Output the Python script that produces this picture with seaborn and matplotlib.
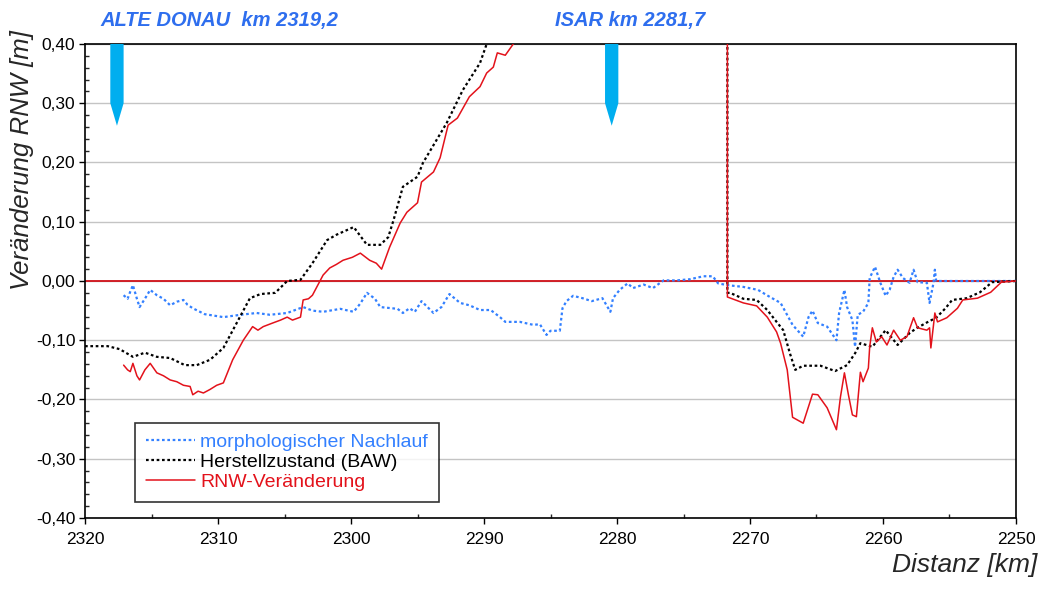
import matplotlib
matplotlib.use('Agg')
import matplotlib.pyplot as plt
import matplotlib.ticker as mticker
import numpy as np
import pandas as pd
import seaborn as sns

# Werte (km, Veränderung in m)
km_herstell = [2320.0, 2318.3, 2317.4, 2316.4, 2315.5, 2314.6, 2313.6, 2312.5, 2311.6, 2310.6,
               2309.6, 2308.6, 2307.6, 2306.8, 2305.7, 2304.8, 2303.8, 2302.9, 2301.8, 2301.1,
               2299.8, 2298.8, 2297.8, 2297.2, 2296.8, 2296.1, 2295.0, 2294.6, 2292.8, 2291.6,
               2290.3, 2289.8, 2288.0, 2285.0, 2280.0, 2275.0, 2271.7,
               2271.7, 2271.5, 2270.5, 2269.5, 2268.7, 2268.0, 2267.5, 2267.0, 2266.6, 2266.0,
               2264.7, 2263.6, 2262.7, 2262.1, 2261.7, 2260.8, 2259.8, 2258.9, 2258.0, 2257.5,
               2256.7, 2256.0, 2255.3, 2254.8, 2253.7, 2252.7, 2251.8, 2250.0]
rnw_herstell = [-0.110, -0.110, -0.115, -0.128, -0.121, -0.128, -0.130, -0.142, -0.142, -0.133,
                -0.113, -0.071, -0.029, -0.022, -0.020, 0.000, 0.002, 0.030, 0.069, 0.078,
                0.091, 0.061, 0.061, 0.074, 0.103, 0.159, 0.176, 0.199, 0.267, 0.322,
                0.368, 0.400, 0.450, 0.520, 0.600, 0.650, 0.680,
                -0.020, -0.020, -0.030, -0.032, -0.049, -0.069, -0.083, -0.122, -0.150, -0.143,
                -0.143, -0.152, -0.142, -0.122, -0.105, -0.111, -0.083, -0.108, -0.088, -0.080,
                -0.070, -0.062, -0.046, -0.032, -0.029, -0.019, -0.002, 0.000]

km_rnw = [2317.1, 2316.8, 2316.6, 2316.4, 2316.1, 2315.9, 2315.5, 2315.1, 2314.6, 2314.1,
          2313.6, 2313.1, 2312.6, 2312.1, 2311.9, 2311.5, 2311.1, 2310.6, 2310.1, 2309.6,
          2308.9, 2308.1, 2307.4, 2307.0, 2306.6, 2305.9, 2305.3, 2304.8, 2304.4, 2303.8,
          2303.6, 2303.2, 2302.9, 2302.1, 2301.6, 2301.1, 2300.6, 2299.9, 2299.3, 2298.6,
          2298.1, 2297.7, 2297.1, 2296.3, 2295.8, 2295.0, 2294.7, 2293.8, 2293.3, 2292.7,
          2292.0, 2291.1, 2290.3, 2289.8, 2289.3, 2289.0, 2288.4, 2287.8, 2285.0, 2280.0,
          2275.0, 2271.7,
          2271.7, 2270.5, 2269.5, 2268.7, 2268.0, 2267.7, 2267.2, 2266.8, 2266.0, 2265.3,
          2264.9, 2264.2, 2263.5, 2263.2, 2262.9, 2262.6, 2262.3, 2262.0, 2261.7, 2261.5,
          2261.1, 2261.0, 2260.8, 2260.5, 2260.1, 2259.7, 2259.2, 2258.7, 2258.2, 2257.7,
          2257.4, 2256.7, 2256.5, 2256.4, 2256.2, 2256.1, 2255.9, 2255.2, 2254.4, 2254.0,
          2252.9, 2251.9, 2251.1, 2250.0]
rnw_rnw = [-0.142, -0.150, -0.153, -0.139, -0.160, -0.167, -0.150, -0.139, -0.155, -0.160,
           -0.167, -0.170, -0.176, -0.178, -0.192, -0.186, -0.189, -0.183, -0.176, -0.172,
           -0.133, -0.100, -0.077, -0.083, -0.077, -0.071, -0.066, -0.061, -0.066, -0.061,
           -0.032, -0.030, -0.024, 0.010, 0.022, 0.028, 0.035, 0.040, 0.047, 0.035,
           0.030, 0.020, 0.057, 0.098, 0.116, 0.132, 0.167, 0.184, 0.208, 0.263,
           0.275, 0.311, 0.328, 0.351, 0.361, 0.385, 0.381, 0.400, 0.460, 0.550,
           0.600, 0.620,
           -0.027, -0.037, -0.042, -0.061, -0.086, -0.105, -0.150, -0.230, -0.240, -0.191,
           -0.192, -0.214, -0.251, -0.196, -0.155, -0.192, -0.226, -0.229, -0.154, -0.170,
           -0.147, -0.111, -0.079, -0.103, -0.094, -0.108, -0.083, -0.100, -0.094, -0.062,
           -0.079, -0.083, -0.079, -0.113, -0.074, -0.054, -0.069, -0.062, -0.046, -0.032,
           -0.029, -0.019, -0.002, 0.000]

km_morph = [2317.1, 2316.8, 2316.6, 2316.4, 2316.1, 2315.9, 2315.5, 2315.1, 2314.6, 2314.1,
            2313.6, 2313.1, 2312.6, 2312.3, 2311.9, 2311.0, 2309.6, 2308.3, 2307.1, 2306.1,
            2304.8, 2303.6, 2302.9, 2302.1, 2300.8, 2299.8, 2299.3, 2298.8, 2298.2, 2297.8,
            2296.5, 2296.1, 2295.6, 2295.2, 2294.7, 2293.8, 2293.2, 2292.6, 2291.8, 2291.1,
            2290.3, 2289.5, 2288.8, 2288.4, 2287.3, 2286.3, 2285.8, 2285.3, 2285.0, 2284.3,
            2284.1, 2283.8, 2283.3, 2282.6, 2281.9, 2281.1, 2280.5, 2280.3, 2279.8, 2279.2,
            2278.8, 2278.0, 2277.3, 2276.5, 2275.5, 2274.5, 2273.5, 2272.8, 2272.4, 2271.7,
            2270.5, 2269.4, 2268.5, 2267.7, 2266.8, 2266.0, 2265.6, 2265.3, 2264.9, 2264.2,
            2263.5, 2263.3, 2262.9, 2262.7, 2262.3, 2262.1, 2261.9, 2261.5, 2261.1, 2261.0,
            2260.6, 2260.2, 2259.8, 2259.5, 2259.2, 2258.9, 2258.5, 2258.0, 2257.7, 2257.4,
            2256.7, 2256.5, 2256.2, 2256.1, 2256.0, 2250.0]
rnw_morph = [-0.024, -0.030, -0.018, -0.007, -0.030, -0.044, -0.030, -0.015, -0.024, -0.030,
             -0.041, -0.035, -0.032, -0.040, -0.046, -0.056, -0.061, -0.057, -0.054, -0.057,
             -0.054, -0.044, -0.050, -0.052, -0.047, -0.052, -0.038, -0.020, -0.030, -0.044,
             -0.047, -0.054, -0.046, -0.052, -0.034, -0.054, -0.044, -0.022, -0.037, -0.041,
             -0.049, -0.049, -0.061, -0.069, -0.069, -0.074, -0.073, -0.091, -0.084, -0.084,
             -0.046, -0.034, -0.025, -0.029, -0.034, -0.029, -0.052, -0.029, -0.015, -0.004,
             -0.012, -0.006, -0.012, 0.001, 0.001, 0.003, 0.008, 0.008, -0.004, -0.007,
             -0.010, -0.015, -0.027, -0.037, -0.074, -0.094, -0.061, -0.050, -0.071, -0.077,
             -0.100, -0.054, -0.015, -0.044, -0.066, -0.111, -0.057, -0.052, -0.037, 0.005,
             0.024, -0.003, -0.025, -0.015, 0.007, 0.019, 0.005, -0.003, 0.019, -0.002,
             -0.003, -0.037, -0.003, 0.019, 0.000, 0.000]

# Zuflüsse (Markierungen oben)
zufluss_namen = ['ALTE DONAU  km 2319,2', 'ISAR km 2281,7']
zufluss_km = [2317.6, 2280.4]

BLAU = '#3380FF'
ROT = '#E3121B'
CYAN = '#00AEEF'

sns.set_style('ticks')
plt.rcParams['font.family'] = ['Liberation Sans', 'DejaVu Sans']

fig = plt.figure(figsize=(10.46, 5.92), dpi=100)
ax = fig.add_axes([0.0813, 0.125, 0.89, 0.8007])

df_m = pd.DataFrame({'km': km_morph, 'dw': rnw_morph})
df_h = pd.DataFrame({'km': km_herstell, 'dw': rnw_herstell})
df_r = pd.DataFrame({'km': km_rnw, 'dw': rnw_rnw})

ax.axhline(0, color='#D01018', lw=1.3, zorder=1)
sns.lineplot(data=df_m, x='km', y='dw', ax=ax, sort=False, estimator=None, color=BLAU,
             lw=1.6, linestyle=(0, (1.2, 1.2)), label='morphologischer Nachlauf', zorder=3)
sns.lineplot(data=df_h, x='km', y='dw', ax=ax, sort=False, estimator=None, color='black',
             lw=1.6, linestyle=(0, (1.2, 1.2)), label='Herstellzustand (BAW)', zorder=3)
sns.lineplot(data=df_r, x='km', y='dw', ax=ax, sort=False, estimator=None, color=ROT,
             lw=1.1, label='RNW-Veränderung', zorder=4)

# Pfeile der Zuflüsse
for k in zufluss_km:
    b = 0.5
    ax.fill([k - b, k + b, k + b, k, k - b], [0.40, 0.40, 0.30, 0.262, 0.30],
            color=CYAN, lw=0, zorder=5, clip_on=False)

ax.set_xlim(2320, 2250)
ax.set_ylim(-0.40, 0.40)
ax.xaxis.set_major_locator(mticker.MultipleLocator(10))
ax.xaxis.set_minor_locator(mticker.MultipleLocator(5))
ax.yaxis.set_major_locator(mticker.MultipleLocator(0.1))
ax.yaxis.set_minor_locator(mticker.MultipleLocator(0.02))
ax.yaxis.set_major_formatter(mticker.FuncFormatter(lambda v, p: f'{v:.2f}'.replace('.', ',')))
ax.xaxis.set_major_formatter(mticker.FuncFormatter(lambda v, p: f'{v:.0f}'))

ax.grid(axis='y', which='major', color='#C4C4C4', lw=1)
ax.set_axisbelow(True)
for s in ax.spines.values():
    s.set_color('black')
    s.set_linewidth(1.2)
ax.tick_params(axis='both', which='major', direction='out', length=4, width=1,
               colors='black', labelsize=12.5)
ax.tick_params(axis='both', which='minor', direction='in', length=3, width=1)
ax.tick_params(axis='x', pad=6)
ax.tick_params(axis='y', pad=3)

ax.set_xlabel('')
ax.set_ylabel('')
fig.text(0.021, 0.73, 'Veränderung RNW [m]', fontsize=18.5, style='italic',
         rotation=90, ha='center', va='center')
fig.text(0.992, 0.025, 'Distanz [km]', fontsize=19, style='italic', ha='right', va='bottom')

fig.text(0.0956, 0.966, zufluss_namen[0], fontsize=14.5, style='italic', weight='bold',
         color='#2E6EEE', va='center')
fig.text(0.5306, 0.966, zufluss_namen[1], fontsize=14.5, style='italic', weight='bold',
         color='#2E6EEE', va='center')

leg = ax.legend(loc='lower left', bbox_to_anchor=(0.054, 0.034), borderaxespad=0,
                fontsize=14, handlelength=2.5, handletextpad=0.3, labelspacing=0.12,
                frameon=True, fancybox=False, borderpad=0.55)
leg.get_frame().set_edgecolor('black')
leg.get_frame().set_linewidth(1.2)
for txt, c in zip(leg.get_texts(), [BLAU, 'black', ROT]):
    txt.set_color(c)

fig.savefig('out.png', dpi=100)
